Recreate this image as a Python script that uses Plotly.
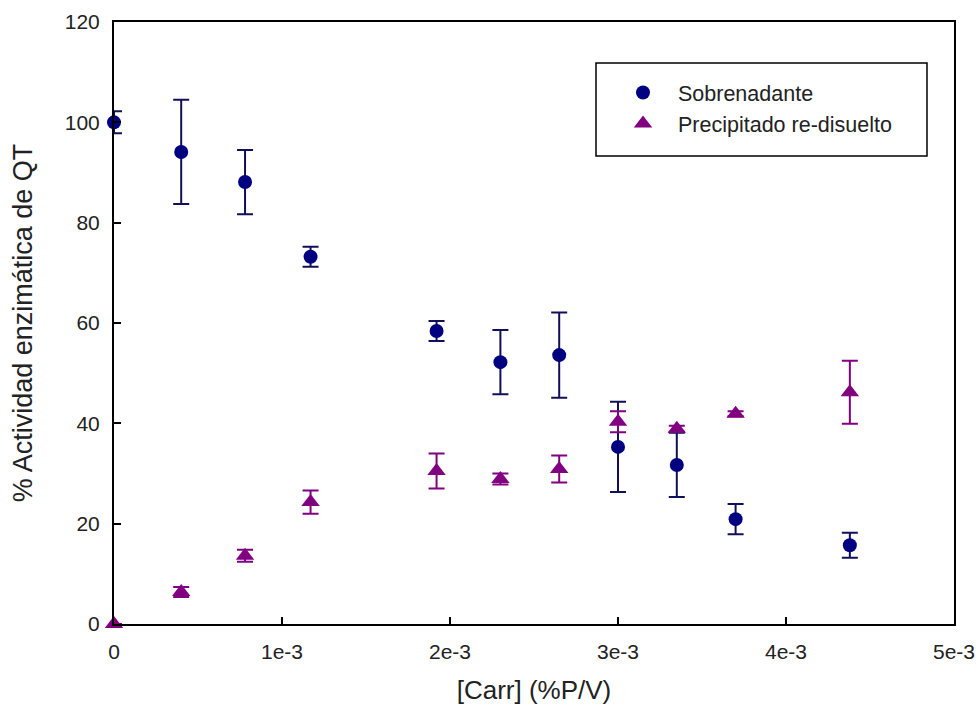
import plotly.graph_objects as go

# ---- data ----
carr_sob = [0.0, 0.40e-3, 0.78e-3, 1.17e-3, 1.92e-3, 2.30e-3, 2.65e-3, 3.00e-3, 3.35e-3, 3.70e-3, 4.38e-3]
act_sob = [100.0, 94.1, 88.1, 73.2, 58.4, 52.2, 53.6, 35.3, 31.7, 20.9, 15.7]
err_sob = [2.2, 10.4, 6.4, 2.0, 2.0, 6.4, 8.5, 9.0, 6.4, 3.0, 2.5]

carr_pre = [0.0, 0.40e-3, 0.78e-3, 1.17e-3, 1.92e-3, 2.30e-3, 2.65e-3, 3.00e-3, 3.35e-3, 3.70e-3, 4.38e-3]
act_pre = [0.0, 6.4, 13.6, 24.3, 30.5, 28.9, 30.9, 40.3, 38.9, 41.9, 46.2]
err_pre = [0.0, 1.0, 1.2, 2.3, 3.5, 1.1, 2.7, 2.1, 0.6, 0.5, 6.3]

x_tickvals = [0, 1e-3, 2e-3, 3e-3, 4e-3, 5e-3]
x_ticktext = ["0", "1e-3", "2e-3", "3e-3", "4e-3", "5e-3"]
y_tickvals = [0, 20, 40, 60, 80, 100, 120]

FONT = "Liberation Sans, Arial, sans-serif"
NAVY = "#000080"
PURPLE = "#800080"

fig = go.Figure()
fig.add_trace(go.Scatter(
    x=carr_sob, y=act_sob, mode="markers", name="Sobrenadante",
    marker=dict(symbol="circle", size=14, color=NAVY),
    error_y=dict(type="data", array=err_sob, color="#10105a", thickness=2, width=8),
    cliponaxis=False,
))
fig.add_trace(go.Scatter(
    x=carr_pre, y=act_pre, mode="markers", name="Precipitado re-disuelto",
    marker=dict(symbol="triangle-up", size=16, color=PURPLE),
    error_y=dict(type="data", array=err_pre, color=PURPLE, thickness=2, width=8),
    cliponaxis=False,
))

L, R, T, B = 114, 25, 22, 90
W, H = 979, 714
pw, ph = W - L - R, H - T - B

def px(xp):
    return (xp - L) / pw

def py(yp):
    return (H - B - yp) / ph

fig.add_shape(type="rect", xref="paper", yref="paper",
              x0=px(596), x1=px(927), y0=py(156), y1=py(63),
              line=dict(color="black", width=1.5), fillcolor="rgba(0,0,0,0)")

fig.update_layout(
    width=W, height=H,
    margin=dict(l=L, r=R, t=T, b=B),
    paper_bgcolor="white", plot_bgcolor="white",
    font=dict(family=FONT, color="#222222"),
    showlegend=True,
    legend=dict(x=px(608), y=py(72), xanchor="left", yanchor="top",
                bgcolor="rgba(0,0,0,0)", borderwidth=0,
                font=dict(family=FONT, size=21.5, color="#222222"),
                itemwidth=60),
    xaxis=dict(
        range=[0, 5e-3], tickvals=x_tickvals, ticktext=x_ticktext,
        showgrid=False, zeroline=False,
        showline=True, linecolor="black", linewidth=2, mirror=True,
        ticks="inside", ticklen=7, tickwidth=1.5, tickcolor="black",
        tickfont=dict(family=FONT, size=21, color="#222222"),
        ticklabelstandoff=8,
        title=dict(text="[Carr] (%P/V)", font=dict(family=FONT, size=26, color="#222222"), standoff=19),
        automargin=False,
    ),
    yaxis=dict(
        range=[0, 120], tickvals=y_tickvals,
        showgrid=False, zeroline=False,
        showline=True, linecolor="black", linewidth=2, mirror=True,
        ticks="inside", ticklen=7, tickwidth=1.5, tickcolor="black",
        tickfont=dict(family=FONT, size=21, color="#222222"),
        ticklabelstandoff=8,
        title=dict(text="% Actividad enzimática de QT", font=dict(family=FONT, size=27, color="#222222"), standoff=24),
        automargin=False,
    ),
)

fig.write_html("out.html")
